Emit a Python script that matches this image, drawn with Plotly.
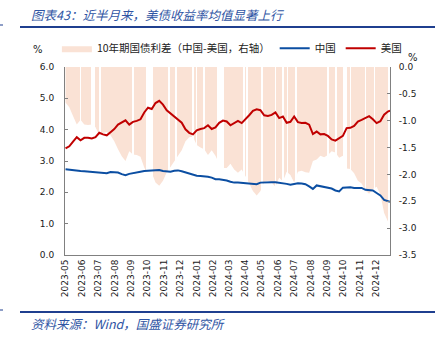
import pandas as pd
import plotly.graph_objects as go

# ---- data ----
start_date = "2023-05-01"
n_weeks = 87
last_date = "2024-12-27"

us_10y = [3.40, 3.47, 3.62, 3.76, 3.66, 3.74, 3.74, 3.72, 3.76, 3.90,
          3.85, 3.82, 3.92, 4.02, 4.16, 4.24, 4.30, 4.16, 4.25, 4.28,
          4.33, 4.55, 4.70, 4.66, 4.85, 4.92, 4.80, 4.62, 4.52, 4.44,
          4.35, 4.22, 4.01, 3.90, 3.85, 3.98, 4.02, 4.05, 4.14, 4.02,
          4.07, 4.22, 4.29, 4.26, 4.14, 4.22, 4.28, 4.21, 4.32, 4.46,
          4.60, 4.65, 4.62, 4.46, 4.44, 4.47, 4.55, 4.37, 4.42, 4.22,
          4.25, 4.42, 4.24, 4.21, 4.22, 4.16, 3.86, 3.94, 3.85, 3.86,
          3.80, 3.69, 3.65, 3.72, 3.80, 4.05, 4.06, 4.12, 4.26, 4.31,
          4.38, 4.43, 4.33, 4.21, 4.27, 4.48, 4.58, 4.61]

cn_10y = [2.74, 2.72, 2.71, 2.69, 2.68, 2.67, 2.66, 2.65, 2.64, 2.63,
          2.62, 2.61, 2.65, 2.64, 2.63, 2.58, 2.55, 2.59, 2.62, 2.64,
          2.66, 2.68, 2.69, 2.69, 2.70, 2.71, 2.68, 2.66, 2.66, 2.69,
          2.70, 2.67, 2.63, 2.59, 2.55, 2.53, 2.52, 2.52, 2.50, 2.47,
          2.42, 2.42, 2.41, 2.38, 2.34, 2.31, 2.31, 2.30, 2.29, 2.29,
          2.29, 2.26, 2.31, 2.32, 2.32, 2.32, 2.32, 2.31, 2.29, 2.27,
          2.24, 2.27, 2.29, 2.28, 2.26, 2.19, 2.11, 2.22, 2.20, 2.18,
          2.16, 2.12, 2.06, 2.03, 2.15, 2.16, 2.16, 2.14, 2.14, 2.14,
          2.08, 2.07, 2.06, 1.98, 1.90, 1.76, 1.71, 1.70]

# days with no spread value (market holidays)
gap_dates = ["2023-05-29", "2023-06-19", "2023-06-22", "2023-06-23", "2023-07-04",
             "2023-09-04", "2023-09-29", "2023-09-30", "2023-10-01", "2023-10-02",
             "2023-10-03", "2023-10-04", "2023-10-05", "2023-10-06", "2023-10-09",
             "2023-11-10", "2023-11-23", "2023-12-25", "2024-01-01", "2024-01-15",
             "2024-02-09", "2024-02-10", "2024-02-11", "2024-02-12", "2024-02-13",
             "2024-02-14", "2024-02-15", "2024-02-16", "2024-02-17", "2024-02-19",
             "2024-03-29", "2024-04-04", "2024-04-05", "2024-05-01", "2024-05-02",
             "2024-05-03", "2024-05-27", "2024-06-10", "2024-06-19", "2024-07-04",
             "2024-09-02", "2024-09-16", "2024-09-17", "2024-10-01", "2024-10-02",
             "2024-10-03", "2024-10-04", "2024-10-07", "2024-10-14", "2024-11-11",
             "2024-11-28", "2024-12-25"]

y2_tickvals = [0.0, -0.5, -1.0, -1.5, -2.0, -2.5, -3.0, -3.5]
y2_ticktext = ["0.0", "-0.5", "-1.0", "-1.5", "-2.0", "-2.5", "-3.0", "-3.5"]

dates = list(pd.date_range(start_date, periods=n_weeks, freq="7D")) + [pd.Timestamp(last_date)]
spread = [round(c - u, 2) for c, u in zip(cn_10y, us_10y)]

# ---- styles ----
C_RED = "#C00000"
C_BLUE = "#0B4EA2"
C_AREA = "#FAE2D5"
C_AXIS = "#808080"
C_TITLE = "#2F55A4"
TICKFONT = dict(family="DejaVu Sans", size=9, color="#1a1a1a")

fig = go.Figure()
# spread area on the base (right-hand) axis
fig.add_trace(go.Scatter(x=dates, y=spread, yaxis="y", mode="lines",
                         line=dict(width=0, color=C_AREA), fill="tozeroy",
                         fillcolor=C_AREA, name="10年期国债利差（中国-美国，右轴）"))
# holiday gaps on a hidden overlay with the same scale
fig.add_trace(go.Bar(x=gap_dates, y=[-3.5] * len(gap_dates), yaxis="y2",
                     width=86400000, marker=dict(color="white", line=dict(width=0)),
                     showlegend=False, hoverinfo="skip"))
# yields on the left axis, drawn on top
fig.add_trace(go.Scatter(x=dates, y=cn_10y, yaxis="y3", mode="lines", name="中国",
                         line=dict(color=C_BLUE, width=2)))
fig.add_trace(go.Scatter(x=dates, y=us_10y, yaxis="y3", mode="lines", name="美国",
                         line=dict(color=C_RED, width=2)))

fig.update_layout(
    width=438, height=341,
    margin=dict(l=65, r=48, t=67, b=86),
    paper_bgcolor="white", plot_bgcolor="white",
    showlegend=True,
    legend=dict(orientation="h", x=-0.025, xanchor="left", y=1.10, yanchor="middle",
                font=dict(family="Noto Sans CJK SC", size=10.5, color="#222"),
                bgcolor="rgba(0,0,0,0)", tracegroupgap=0, itemwidth=30,
                traceorder="normal"),
    xaxis=dict(type="date", range=["2023-04-30", "2024-12-27"],
               tickformat="%Y-%m", dtick="M1", tick0="2023-05-01", tickangle=-90,
               showline=True, linecolor=C_AXIS, linewidth=1, ticks="",
               showgrid=False, zeroline=False, tickfont=TICKFONT),
    yaxis=dict(range=[-3.5, 0], side="right",
               tickvals=y2_tickvals, ticktext=y2_ticktext, showline=True,
               linecolor=C_AXIS, linewidth=1, ticks="inside", ticklen=3,
               tickcolor=C_AXIS, showgrid=False, zeroline=False, tickfont=TICKFONT,
               ticklabelstandoff=6),
    yaxis2=dict(range=[-3.5, 0], overlaying="y", side="right", visible=False,
                showgrid=False, zeroline=False),
    yaxis3=dict(range=[0, 6], overlaying="y", side="left", dtick=1, tickformat=".1f",
                showline=True, linecolor=C_AXIS, linewidth=1, ticks="inside",
                ticklen=3, tickcolor=C_AXIS, showgrid=False, zeroline=False,
                tickfont=TICKFONT, ticklabelstandoff=8),
    bargap=0,
)

fig.add_annotation(text="<i>图表43：近半月来，美债收益率均值显著上行</i>",
                   xref="paper", yref="paper", x=-36 / 325, y=(255 - 14) / 188,
                   xanchor="left", yanchor="middle", showarrow=False,
                   font=dict(family="Noto Sans CJK SC", size=12.5, color=C_TITLE))
fig.add_annotation(text="<i>资料来源：Wind，国盛证券研究所</i>",
                   xref="paper", yref="paper", x=-36 / 325, y=(255 - 323) / 188,
                   xanchor="left", yanchor="middle", showarrow=False,
                   font=dict(family="Noto Sans CJK SC", size=12.5, color=C_TITLE))
fig.add_annotation(text="%", xref="paper", yref="paper", x=(38 - 65) / 325,
                   y=(255 - 49) / 188, xanchor="center", yanchor="middle",
                   showarrow=False, font=dict(family="DejaVu Sans", size=10, color="#1a1a1a"))
fig.add_annotation(text="%", xref="paper", yref="paper", x=(413 - 65) / 325,
                   y=(255 - 57) / 188, xanchor="center", yanchor="middle",
                   showarrow=False, font=dict(family="DejaVu Sans", size=10, color="#1a1a1a"))

# decorative header / footer rules
for ypix in (27, 312):
    fig.add_shape(type="line", xref="paper", yref="paper",
                  x0=(20 - 65) / 325, x1=(435 - 65) / 325,
                  y0=(255 - ypix) / 188, y1=(255 - ypix) / 188,
                  line=dict(color="#1F3F8F", width=2))
    fig.add_shape(type="line", xref="paper", yref="paper",
                  x0=(0 - 65) / 325, x1=(3 - 65) / 325,
                  y0=(255 - ypix + 2) / 188, y1=(255 - ypix + 2) / 188,
                  line=dict(color="#1F3F8F", width=1))

fig.write_html("out.html")
